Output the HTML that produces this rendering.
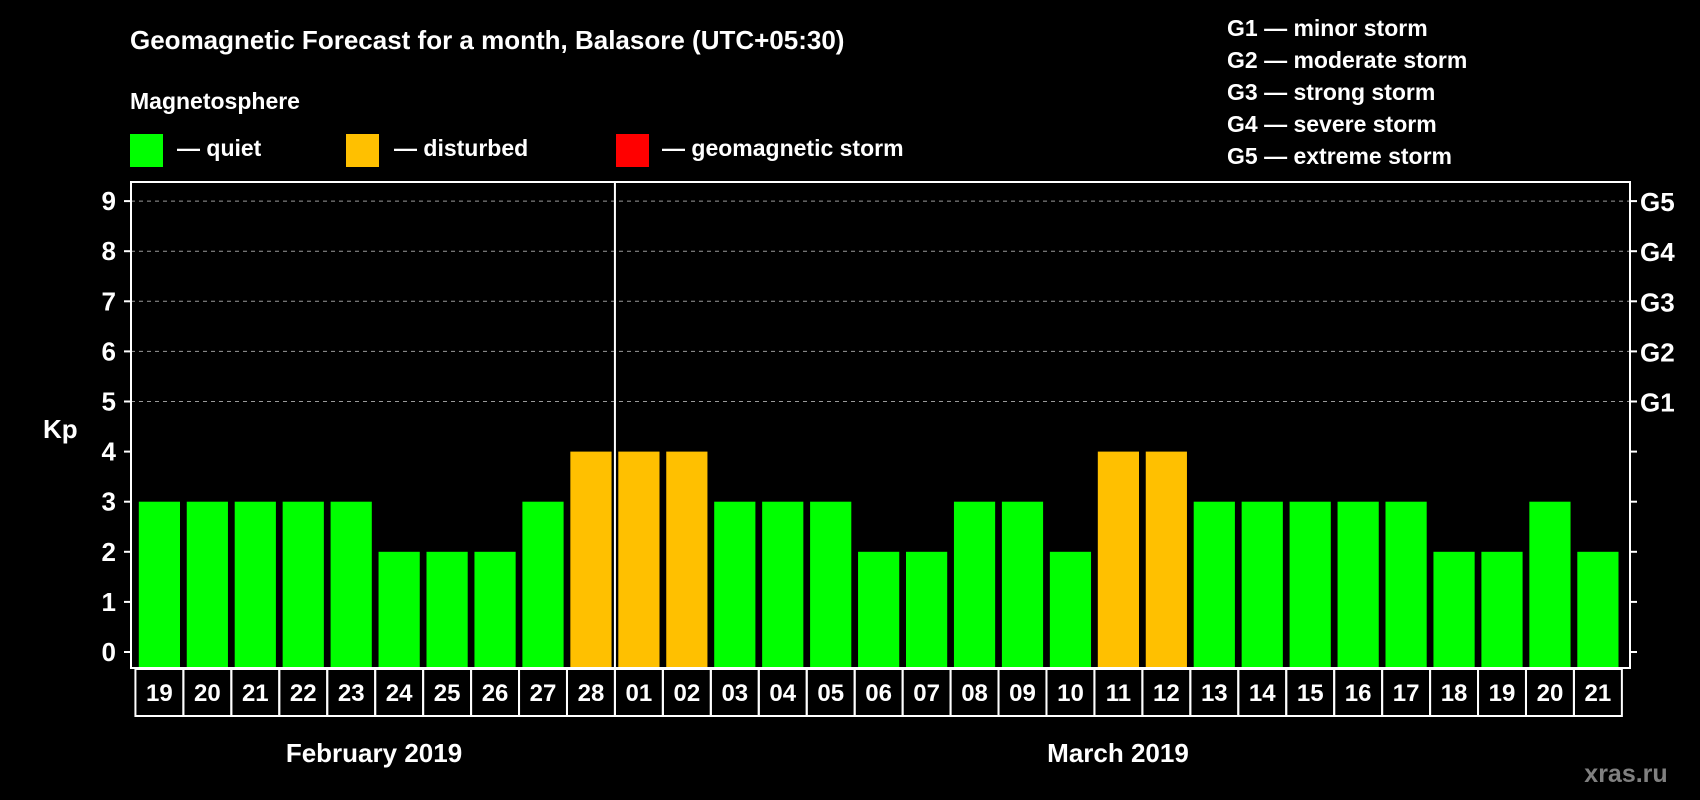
<!DOCTYPE html>
<html><head><meta charset="utf-8"><style>
html,body{margin:0;padding:0;background:#000;}
svg{display:block;font-family:"Liberation Sans",Arial,sans-serif;font-weight:bold;}
</style></head><body>
<svg id="chart" width="1700" height="800" viewBox="0 0 1700 800" xmlns="http://www.w3.org/2000/svg">
<rect width="1700" height="800" fill="#000"/>
<text x="130" y="49" fill="#fff" font-size="26">Geomagnetic Forecast for a month, Balasore (UTC+05:30)</text>
<text x="130" y="109" fill="#fff" font-size="23">Magnetosphere</text>
<rect x="130" y="134" width="33" height="33" fill="#00ff00"/>
<text x="177" y="156" fill="#fff" font-size="23">— quiet</text>
<rect x="346" y="134" width="33" height="33" fill="#ffc000"/>
<text x="394" y="156" fill="#fff" font-size="23">— disturbed</text>
<rect x="616" y="134" width="33" height="33" fill="#ff0000"/>
<text x="662" y="156" fill="#fff" font-size="23">— geomagnetic storm</text>
<g fill="#fff" font-size="23">
<text x="1227" y="36">G1 — minor storm</text>
<text x="1227" y="68">G2 — moderate storm</text>
<text x="1227" y="100">G3 — strong storm</text>
<text x="1227" y="132">G4 — severe storm</text>
<text x="1227" y="164">G5 — extreme storm</text>
</g>
<text x="43" y="438" fill="#fff" font-size="26">Kp</text>
<g id="plot"></g>
<text x="374" y="762" fill="#fff" font-size="26" text-anchor="middle">February 2019</text>
<text x="1118" y="762" fill="#fff" font-size="26" text-anchor="middle">March 2019</text>
<text x="1626" y="782" fill="#808080" font-size="25" text-anchor="middle">xras.ru</text>
</svg>
<script>
const days = ["19","20","21","22","23","24","25","26","27","28","01","02","03","04","05","06","07","08","09","10","11","12","13","14","15","16","17","18","19","20","21"];
const kpValues = [3,3,3,3,3,2,2,2,3,4,4,4,3,3,3,2,2,3,3,2,4,4,3,3,3,3,3,2,2,3,2];
const yTicks = [0,1,2,3,4,5,6,7,8,9];
const gLabels = ["G1","G2","G3","G4","G5"];
const gLevels = [5,6,7,8,9];
const monthSplitIndex = 10;

const NS = "http://www.w3.org/2000/svg";
const plot = document.getElementById("plot");
const L = 131, R = 1630, T = 182, B = 668;
const y = v => 652 - v * 50.1;
const pitch = 47.95, bw = 41.2, x0 = 138.8;
const x = i => x0 + i * pitch;
function mk(tag, attrs, parent) {
  const e = document.createElementNS(NS, tag);
  for (const k in attrs) e.setAttribute(k, attrs[k]);
  (parent || plot).appendChild(e);
  return e;
}
// gridlines
yTicks.forEach(v => {
  if (v >= 5) {
    const g = mk("line", {x1: L, x2: R, y1: y(v), y2: y(v), stroke: "#999", "stroke-width": 1, "stroke-dasharray": "4,4"});
    
    
  }
  const t = mk("line", {x1: L - 7, x2: L, y1: y(v), y2: y(v), stroke: "#fff", "stroke-width": 2});
  
  
  const t2 = mk("line", {x1: R, x2: R + 7, y1: y(v), y2: y(v), stroke: "#fff", "stroke-width": 2});
  
  
  const lab = mk("text", {x: 116, y: y(v) + 9, fill: "#fff", "font-size": 26, "text-anchor": "end"});
  lab.textContent = v;
  
  
});
gLabels.forEach((g, i) => {
  const t = mk("text", {x: 1640, y: y(gLevels[i]) + 10, fill: "#fff", "font-size": 26});
  t.textContent = g;
  
  
});
// bars
kpValues.forEach((v, i) => {
  const col = v >= 5 ? "#ff0000" : (v >= 4 ? "#ffc000" : "#00ff00");
  const r = mk("rect", {x: x(i), y: y(v), width: bw, height: B - y(v), fill: col});
  
  
});
// frame
const fr = mk("rect", {x: L, y: T, width: R - L, height: B - T, fill: "none", stroke: "#fff", "stroke-width": 2});


const sepX = x(monthSplitIndex) - (pitch - bw) / 2;
const sep = mk("line", {x1: sepX, x2: sepX, y1: T, y2: B, stroke: "#fff", "stroke-width": 2});


// day cells
days.forEach((d, i) => {
  const cx = x(i) - (pitch - bw) / 2;
  const c = mk("rect", {x: cx, y: B + 1, width: pitch, height: 47, fill: "none", stroke: "#fff", "stroke-width": 2});
  
  
  const t = mk("text", {x: x(i) + bw / 2, y: B + 33, fill: "#fff", "font-size": 24, "text-anchor": "middle"});
  t.textContent = d;
  
  
});
</script>
</body></html>
